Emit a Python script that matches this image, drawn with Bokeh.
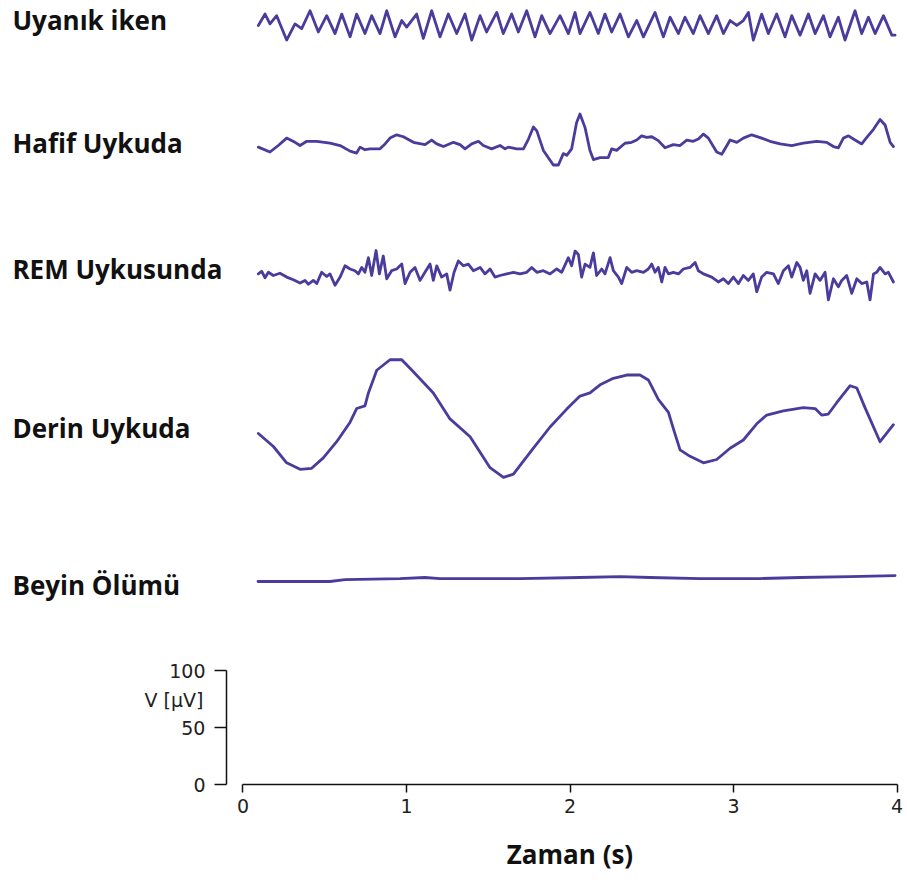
from bokeh.plotting import figure
from bokeh.models import Range1d, LinearAxis, FixedTicker, ColumnDataSource
from bokeh.core.properties import value
from bokeh.embed import file_html
from bokeh.resources import INLINE

# ---- data (time in s, amplitude in microvolts) ----
stages = ["Uyanık iken", "Hafif Uykuda", "REM Uykusunda", "Derin Uykuda", "Beyin Ölümü"]
baselines = [666.7, 560.5, 448.2, 321.9, 180.7]
label_y = [670.2, 562.3, 452.6, 312.3, 174.6]
x_ticks = [0, 1, 2, 3, 4]
y_ticks = [0, 50, 100]

awake_t = [0.094, 0.135, 0.165, 0.206, 0.267, 0.318, 0.359, 0.410, 0.461, 0.512, 0.563, 0.604,
           0.655, 0.695, 0.746, 0.787, 0.838, 0.879, 0.930, 0.971, 1.001, 1.062, 1.103, 1.154,
           1.205, 1.256, 1.307, 1.358, 1.399, 1.450, 1.490, 1.552, 1.592, 1.643, 1.684, 1.735,
           1.786, 1.827, 1.878, 1.939, 1.990, 2.031, 2.061, 2.122, 2.173, 2.214, 2.255, 2.306,
           2.357, 2.408, 2.449, 2.520, 2.571, 2.612, 2.663, 2.703, 2.754, 2.795, 2.846, 2.897,
           2.938, 2.979, 3.020, 3.060, 3.091, 3.121, 3.172, 3.213, 3.264, 3.315, 3.356, 3.407,
           3.458, 3.499, 3.550, 3.590, 3.641, 3.682, 3.743, 3.784, 3.825, 3.866, 3.917, 3.968,
           3.988]
awake_v = [-0.9, 9.1, 0.5, 7.7, -13.7, 0.5, -3.7, 12.0, -6.6, 7.7, -8.0, 9.1,
           -10.9, 9.1, -8.0, 7.7, -8.0, 12.0, -10.9, 3.4, -2.3, 9.1, -12.3, 12.0,
           -10.9, 9.1, -8.0, 9.1, -13.7, 7.7, -6.6, 10.5, -8.0, 9.1, -6.6, 12.0,
           -10.9, 7.7, -8.0, 7.7, -8.0, 10.5, -8.0, 10.5, -8.0, 9.1, -6.6, 9.1,
           -10.9, 3.4, -10.9, 10.5, -10.9, 6.3, -8.0, 6.3, -8.0, 7.7, -8.0, 7.7,
           -8.0, 3.4, -0.9, 3.4, 10.5, -13.7, 9.1, -8.0, 9.1, -10.9, 7.7, -9.4,
           9.1, -8.0, 7.7, -10.9, 6.3, -13.7, 12.0, -8.0, 6.3, -8.0, 7.7, -9.4,
           -9.4]

light_t = [0.094, 0.165, 0.216, 0.267, 0.318, 0.349, 0.390, 0.451, 0.532, 0.594, 0.655, 0.695,
           0.716, 0.746, 0.777, 0.838, 0.869, 0.899, 0.940, 0.981, 1.042, 1.113, 1.154, 1.185,
           1.226, 1.287, 1.327, 1.358, 1.399, 1.440, 1.470, 1.521, 1.572, 1.603, 1.623, 1.674,
           1.715, 1.746, 1.776, 1.797, 1.837, 1.898, 1.929, 1.959, 1.980, 2.010, 2.040, 2.061,
           2.092, 2.122, 2.143, 2.184, 2.234, 2.255, 2.285, 2.336, 2.377, 2.408, 2.438, 2.469,
           2.500, 2.540, 2.581, 2.632, 2.673, 2.714, 2.754, 2.785, 2.816, 2.846, 2.897, 2.928,
           2.948, 2.979, 3.020, 3.060, 3.111, 3.172, 3.223, 3.285, 3.356, 3.427, 3.509, 3.570,
           3.611, 3.641, 3.672, 3.703, 3.743, 3.784, 3.815, 3.856, 3.896, 3.927, 3.958, 3.978]
light_v = [-1.4, -5.7, 0.0, 6.5, 2.8, 0.0, 3.7, 3.7, 2.0, 0.0, -4.9, -6.6,
           -1.4, -3.7, -2.9, -2.9, 1.4, 6.5, 9.4, 7.7, 2.8, 0.8, 4.8, 1.4,
           -0.9, 2.8, 0.8, -2.9, 1.4, 3.7, 0.0, -2.9, 0.0, -2.9, -1.4, -2.9,
           -2.9, 5.7, 16.2, 12.8, -4.3, -17.1, -17.1, -7.1, -8.6, -2.9, 20.0, 27.6,
           15.7, -4.3, -12.3, -10.6, -10.6, -2.9, -4.3, 2.0, 2.8, 4.8, 8.5, 7.1,
           7.7, 4.3, -2.0, 0.8, 0.0, 4.8, 3.7, 5.7, 10.0, 6.5, -5.7, -7.7,
           -2.9, 4.8, 2.8, 6.5, 9.4, 6.5, 3.7, 1.4, 0.0, 2.0, 3.7, 2.8,
           -0.9, -2.0, 6.5, 8.5, 4.8, 1.4, 7.1, 14.2, 22.8, 18.0, 2.8, -0.9]

rem_t = [0.094, 0.114, 0.135, 0.155, 0.186, 0.226, 0.267, 0.308, 0.349, 0.379, 0.400, 0.430,
         0.451, 0.481, 0.512, 0.532, 0.563, 0.594, 0.624, 0.655, 0.685, 0.706, 0.726, 0.746,
         0.767, 0.787, 0.814, 0.834, 0.858, 0.879, 0.909, 0.940, 0.971, 0.991, 1.022, 1.052,
         1.083, 1.113, 1.144, 1.164, 1.185, 1.215, 1.246, 1.266, 1.291, 1.317, 1.348, 1.378,
         1.409, 1.450, 1.480, 1.511, 1.541, 1.572, 1.613, 1.654, 1.694, 1.735, 1.766, 1.797,
         1.837, 1.878, 1.919, 1.949, 1.990, 2.010, 2.031, 2.051, 2.071, 2.092, 2.122, 2.143,
         2.163, 2.194, 2.214, 2.245, 2.265, 2.296, 2.316, 2.347, 2.377, 2.408, 2.449, 2.479,
         2.500, 2.520, 2.540, 2.561, 2.581, 2.602, 2.632, 2.663, 2.693, 2.734, 2.765, 2.785,
         2.816, 2.867, 2.907, 2.938, 2.968, 2.999, 3.030, 3.060, 3.091, 3.121, 3.142, 3.172,
         3.203, 3.244, 3.274, 3.305, 3.336, 3.356, 3.387, 3.407, 3.427, 3.448, 3.468, 3.499,
         3.529, 3.560, 3.580, 3.611, 3.641, 3.662, 3.692, 3.723, 3.754, 3.784, 3.815, 3.835,
         3.856, 3.876, 3.896, 3.927, 3.947, 3.978]
rem_v = [-0.3, 2.0, -3.7, 1.1, -1.7, 0.3, -3.1, -5.4, -8.3, -6.0, -9.4, -6.0,
         -8.8, 1.1, -2.6, -0.3, -10.3, -3.1, 6.8, 4.0, 2.5, -0.3, 5.4, 1.1,
         13.9, -1.7, 20.2, -0.3, 15.4, -4.6, 2.5, 4.0, 8.3, -8.8, 1.1, 5.4,
         -6.0, 1.1, 8.3, -6.0, 6.8, -3.1, -0.3, -14.6, 1.1, 11.1, 6.8, 8.3,
         2.5, 5.4, -0.3, 4.0, -3.1, -1.7, -0.3, 1.1, -0.3, 1.1, 5.4, 1.1,
         2.5, -0.3, 4.0, 1.1, 13.9, 6.8, 19.7, 16.8, -3.1, 8.3, 5.4, 18.2,
         -1.7, 4.0, -0.3, 13.9, 2.5, -3.1, -8.8, 5.4, 1.1, 2.5, 1.1, 4.0,
         8.3, 1.1, 5.4, -7.4, 5.4, -0.3, 1.1, -0.3, 4.0, 5.4, 9.7, 2.5,
         -0.3, -3.1, -7.4, -4.6, -8.8, -3.1, -8.8, -1.7, -6.0, -0.3, -16.0, -3.1,
         1.1, -0.3, -8.8, 2.5, 6.8, -3.1, 9.7, 5.4, -6.0, 2.5, -17.4, -0.3,
         -6.0, 1.1, -23.1, -4.6, -11.7, -6.0, -1.7, -17.4, -4.6, -8.8, -7.4, -23.1,
         -0.3, 1.1, 5.4, -0.3, 1.1, -7.4]

deep_t = [0.094, 0.186, 0.267, 0.349, 0.420, 0.491, 0.573, 0.655, 0.695, 0.746, 0.767, 0.818,
          0.899, 0.971, 1.042, 1.164, 1.266, 1.389, 1.511, 1.593, 1.654, 1.776, 1.878, 1.980,
          2.061, 2.122, 2.184, 2.265, 2.347, 2.428, 2.479, 2.540, 2.602, 2.632, 2.673, 2.734,
          2.816, 2.897, 2.979, 3.060, 3.142, 3.203, 3.305, 3.427, 3.499, 3.539, 3.580, 3.631,
          3.713, 3.754, 3.804, 3.896, 3.978]
deep_v = [-14.0, -25.4, -39.7, -45.4, -44.5, -35.4, -21.2, -4.1, 7.9, 10.2, 21.6, 41.5,
          50.7, 50.7, 40.1, 21.6, -1.2, -16.9, -44.0, -52.5, -49.7, -26.9, -8.3, 7.4,
          18.8, 21.6, 28.7, 34.4, 37.3, 37.3, 33.0, 15.9, 4.5, -9.8, -28.3, -34.0,
          -39.7, -36.8, -26.9, -19.7, -5.5, 2.2, 5.9, 8.7, 7.9, 2.2, 3.1, 13.0,
          27.9, 25.9, 8.7, -21.2, -6.3]

death_t = [0.092, 0.532, 0.624, 0.960, 1.113, 1.205, 1.694, 2.061, 2.306, 2.489, 2.795, 3.162,
           3.407, 3.713, 3.988]
death_v = [-2.6, -2.6, -0.9, 0.0, 0.9, 0.0, 0.0, 0.9, 1.7, 0.9, 0.0, 0.0,
           0.9, 1.7, 2.6]

traces = [(awake_t, awake_v), (light_t, light_v), (rem_t, rem_v), (deep_t, deep_v), (death_t, death_v)]

LINE = "#4a3c9c"
INK = "#111111"

p = figure(width=907, height=883, output_backend="svg", toolbar_location=None,
           x_range=Range1d(-1.483, 4.064), y_range=Range1d(-86.8, 687.7),
           x_axis_type=None, y_axis_type=None, min_border=0)
p.outline_line_color = None
p.xgrid.visible = False
p.ygrid.visible = False
p.background_fill_color = "white"
p.border_fill_color = "white"

for (tt, vv), base in zip(traces, baselines):
    src = ColumnDataSource(dict(t=tt, y=[base + v for v in vv]))
    p.line("t", "y", source=src, line_color=LINE, line_width=2.8, line_join="round", line_cap="round")

lab_src = ColumnDataSource(dict(x=[-1.41] * len(stages), y=label_y, text=stages))
p.text("x", "y", text="text", source=lab_src, text_font=value("Open Sans"), text_font_style="bold",
       text_font_size="26px", text_color=INK, text_baseline="middle", text_align="left")

xaxis = LinearAxis(fixed_location=0, bounds=(0, 4), ticker=FixedTicker(ticks=x_ticks),
                   axis_label="Zaman (s)")
xaxis.major_tick_out = 8
xaxis.major_tick_in = 0
xaxis.minor_tick_out = 0
xaxis.minor_tick_in = 0
xaxis.major_label_standoff = 6
xaxis.axis_line_color = INK
xaxis.axis_line_width = 1.5
xaxis.major_tick_line_color = INK
xaxis.major_tick_line_width = 1.5
xaxis.major_label_text_font = "DejaVu Sans"
xaxis.major_label_text_font_size = "19px"
xaxis.major_label_text_color = "#222222"
xaxis.axis_label_text_font = "Open Sans"
xaxis.axis_label_text_font_style = "bold"
xaxis.axis_label_text_font_size = "26px"
xaxis.axis_label_text_color = INK
xaxis.axis_label_standoff = 20
p.add_layout(xaxis, "below")

yaxis = LinearAxis(fixed_location=-0.101, bounds=(0, 100), ticker=FixedTicker(ticks=y_ticks))
yaxis.major_tick_out = 12
yaxis.major_tick_in = 0
yaxis.minor_tick_out = 0
yaxis.minor_tick_in = 0
yaxis.major_label_standoff = 9
yaxis.axis_line_color = INK
yaxis.axis_line_width = 1.5
yaxis.major_tick_line_color = INK
yaxis.major_tick_line_width = 1.5
yaxis.major_label_text_font = "DejaVu Sans"
yaxis.major_label_text_font_size = "19px"
yaxis.major_label_text_color = "#222222"
p.add_layout(yaxis, "left")

unit_src = ColumnDataSource(dict(x=[-0.2416], y=[74.0], text=["V [μV]"]))
p.text("x", "y", text="text", source=unit_src, text_font=value("DejaVu Sans"), text_font_size="19px",
       text_color="#222222", text_baseline="middle", text_align="right")

open("out.html", "w").write(file_html(p, INLINE))
